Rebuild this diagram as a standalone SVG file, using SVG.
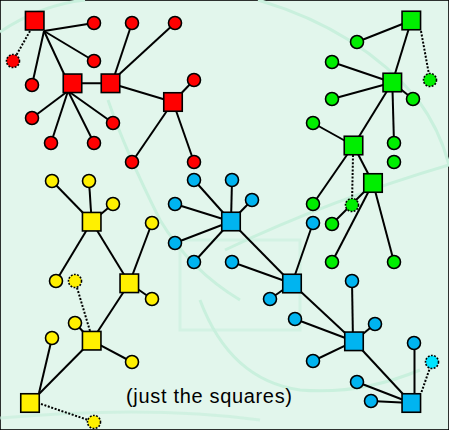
<svg xmlns="http://www.w3.org/2000/svg" width="449" height="430" viewBox="0 0 449 430">
<style>
.bgc{fill:none;stroke:#c9f0dd;stroke-width:3}
.e{stroke:#000;stroke-width:2;fill:none}
.d{stroke:#000;stroke-width:2;stroke-dasharray:2 1.6;fill:none}
circle,rect{stroke:#000;stroke-width:1.6}
.dot{stroke-dasharray:1.8 1.4}
.r{fill:#ff0000}.g{fill:#00ee00}.y{fill:#fff000}.b{fill:#00b4f0}.bc{fill:#00e4ff}
text{font-family:"Liberation Sans","DejaVu Sans",sans-serif;font-size:20px;fill:#000}
</style>
<rect x="0" y="0" width="449" height="430" fill="#e2f6ec" stroke="none"/>
<g id="background">
<path class="bgc" d="M0,32 Q40,5 85,0"/>
<path class="bgc" d="M258,0 Q360,30 418,100 Q440,130 449,165"/>
<path class="bgc" d="M108,100 Q125,150 160,220 Q190,270 240,300"/>
<path class="bgc" d="M225,250 Q330,200 449,165"/>
<path class="bgc" d="M200,300 Q230,380 300,390 Q360,395 420,370"/>
<path class="bgc" d="M180,240 L300,240 L300,330 L180,330 Z" opacity="0.6"/>
<path class="bgc" d="M0,418 Q150,405 260,420" opacity="0.7"/>
</g>
<g id="connectors">
<line class="e" x1="44" y1="31" x2="94" y2="23"/>
<line class="e" x1="44" y1="31" x2="94" y2="61"/>
<line class="e" x1="44" y1="31" x2="32" y2="85"/>
<line class="e" x1="44" y1="31" x2="65" y2="76"/>
<line class="d" x1="30" y1="31" x2="13" y2="61"/>
<line class="e" x1="72.5" y1="83.3" x2="110.5" y2="83.3"/>
<line class="e" x1="68" y1="91" x2="32" y2="118"/>
<line class="e" x1="68" y1="91" x2="51" y2="143"/>
<line class="e" x1="68" y1="91" x2="94" y2="143"/>
<line class="e" x1="68" y1="91" x2="113" y2="123"/>
<line class="e" x1="113" y1="80" x2="132" y2="23"/>
<line class="e" x1="113" y1="80" x2="175" y2="23"/>
<line class="e" x1="110.5" y1="83.3" x2="173" y2="102"/>
<line class="e" x1="173" y1="102" x2="194" y2="80"/>
<line class="e" x1="173" y1="102" x2="132" y2="162"/>
<line class="e" x1="173" y1="102" x2="194" y2="162"/>

<line class="e" x1="411.3" y1="20.5" x2="357" y2="42"/>
<line class="e" x1="411.3" y1="20.5" x2="392.3" y2="82.5"/>
<line class="d" x1="421" y1="31" x2="430" y2="80"/>
<line class="e" x1="392.3" y1="82.5" x2="332" y2="62"/>
<line class="e" x1="392.3" y1="82.5" x2="332" y2="99"/>
<line class="e" x1="392.3" y1="82.5" x2="413" y2="99"/>
<line class="e" x1="392.3" y1="82.5" x2="353.5" y2="145.5"/>
<line class="e" x1="392.3" y1="82.5" x2="394" y2="143"/>
<line class="e" x1="353.5" y1="145.5" x2="313" y2="123"/>
<line class="e" x1="353.5" y1="145.5" x2="313" y2="204"/>
<line class="e" x1="353.5" y1="145.5" x2="373" y2="183"/>
<line class="d" x1="353" y1="155" x2="352" y2="205"/>
<line class="e" x1="373" y1="183" x2="332" y2="224"/>
<line class="e" x1="373" y1="183" x2="332" y2="262"/>
<line class="e" x1="373" y1="183" x2="394" y2="262"/>

<line class="e" x1="231" y1="221.5" x2="194" y2="180"/>
<line class="e" x1="231" y1="221.5" x2="175" y2="204"/>
<line class="e" x1="231" y1="221.5" x2="175" y2="243"/>
<line class="e" x1="231" y1="221.5" x2="194" y2="262"/>
<line class="e" x1="231" y1="221.5" x2="232" y2="180"/>
<line class="e" x1="231" y1="221.5" x2="252" y2="200"/>
<line class="e" x1="231" y1="221.5" x2="292" y2="283.5"/>
<line class="e" x1="292" y1="283.5" x2="232" y2="262"/>
<line class="e" x1="292" y1="283.5" x2="313" y2="223"/>
<line class="e" x1="292" y1="283.5" x2="270" y2="299"/>
<line class="e" x1="292" y1="283.5" x2="354" y2="341.3"/>
<line class="e" x1="353" y1="341.3" x2="352" y2="281"/>
<line class="e" x1="354" y1="341.3" x2="295" y2="319"/>
<line class="e" x1="354" y1="341.3" x2="375" y2="324"/>
<line class="e" x1="354" y1="341.3" x2="313" y2="361"/>
<line class="e" x1="354" y1="341.3" x2="411.3" y2="403"/>
<line class="e" x1="411.3" y1="403" x2="357" y2="382"/>
<line class="e" x1="411.3" y1="403" x2="371" y2="401"/>
<line class="e" x1="414.5" y1="403" x2="414.5" y2="343"/>
<line class="d" x1="421.5" y1="392" x2="432" y2="362"/>

<line class="e" x1="91.7" y1="221.7" x2="52" y2="181"/>
<line class="e" x1="91.7" y1="221.7" x2="89" y2="181"/>
<line class="e" x1="91.7" y1="221.7" x2="113" y2="204"/>
<line class="e" x1="91.7" y1="221.7" x2="56" y2="281"/>
<line class="e" x1="91.7" y1="221.7" x2="129.3" y2="283.3"/>
<line class="e" x1="129.3" y1="283.3" x2="152" y2="223"/>
<line class="e" x1="129.3" y1="283.3" x2="152" y2="299"/>
<line class="e" x1="129.3" y1="283.3" x2="91.7" y2="340.7"/>
<line class="e" x1="91.7" y1="340.7" x2="75" y2="323"/>
<line class="e" x1="91.7" y1="340.7" x2="132" y2="362"/>
<line class="e" x1="91.7" y1="340.7" x2="30" y2="403"/>
<line class="d" x1="90" y1="331" x2="75" y2="281"/>
<line class="e" x1="39" y1="393" x2="52" y2="338"/>
<line class="d" x1="41" y1="404" x2="94" y2="422"/>
</g>

<g id="red-s1"><rect class="r" x="25.45" y="11.45" width="18.5" height="18.5"/></g>
<g id="red-s2"><rect class="r" x="63.25" y="74.05" width="18.5" height="18.5"/></g>
<g id="red-s3"><rect class="r" x="101.25" y="74.05" width="18.5" height="18.5"/></g>
<g id="red-s4"><rect class="r" x="163.75" y="92.75" width="18.5" height="18.5"/></g>
<g id="red-c1"><circle class="r" cx="94" cy="23" r="6.5"/></g>
<g id="red-c2"><circle class="r" cx="132" cy="23" r="6.5"/></g>
<g id="red-c3"><circle class="r" cx="175" cy="23" r="6.5"/></g>
<g id="red-c4"><circle class="r" cx="94" cy="61" r="6.5"/></g>
<g id="red-cd"><circle class="r dot" cx="13" cy="61" r="6.5"/></g>
<g id="red-c5"><circle class="r" cx="32" cy="85" r="6.5"/></g>
<g id="red-c6"><circle class="r" cx="194" cy="80" r="6.5"/></g>
<g id="red-c7"><circle class="r" cx="32" cy="118" r="6.5"/></g>
<g id="red-c8"><circle class="r" cx="113" cy="123" r="6.5"/></g>
<g id="red-c9"><circle class="r" cx="51" cy="143" r="6.5"/></g>
<g id="red-c10"><circle class="r" cx="94" cy="143" r="6.5"/></g>
<g id="red-c11"><circle class="r" cx="132" cy="162" r="6.5"/></g>
<g id="red-c12"><circle class="r" cx="194" cy="162" r="6.5"/></g>

<g id="green-s1"><rect class="g" x="402.05" y="11.25" width="18.5" height="18.5"/></g>
<g id="green-s2"><rect class="g" x="383.05" y="73.25" width="18.5" height="18.5"/></g>
<g id="green-s3"><rect class="g" x="344.25" y="136.25" width="18.5" height="18.5"/></g>
<g id="green-s4"><rect class="g" x="363.75" y="173.75" width="18.5" height="18.5"/></g>
<g id="green-c1"><circle class="g" cx="357" cy="42" r="6.5"/></g>
<g id="green-c2"><circle class="g" cx="332" cy="62" r="6.5"/></g>
<g id="green-c3"><circle class="g" cx="332" cy="99" r="6.5"/></g>
<g id="green-c4"><circle class="g" cx="413" cy="99" r="6.5"/></g>
<g id="green-c5"><circle class="g" cx="313" cy="123" r="6.5"/></g>
<g id="green-c6"><circle class="g" cx="394" cy="143" r="6.5"/></g>
<g id="green-c7"><circle class="g" cx="394" cy="162" r="6.5"/></g>
<g id="green-c8"><circle class="g" cx="313" cy="204" r="6.5"/></g>
<g id="green-c9"><circle class="g" cx="332" cy="224" r="6.5"/></g>
<g id="green-c10"><circle class="g" cx="332" cy="262" r="6.5"/></g>
<g id="green-c11"><circle class="g" cx="394" cy="262" r="6.5"/></g>
<g id="green-cd1"><circle class="g dot" cx="430" cy="80" r="6.5"/></g>
<g id="green-cd2"><circle class="g dot" cx="352" cy="205" r="6.5"/></g>

<g id="blue-s1"><rect class="b" x="221.75" y="212.25" width="18.5" height="18.5"/></g>
<g id="blue-s2"><rect class="b" x="282.75" y="274.25" width="18.5" height="18.5"/></g>
<g id="blue-s3"><rect class="b" x="344.75" y="332.05" width="18.5" height="18.5"/></g>
<g id="blue-s4"><rect class="b" x="402.05" y="393.75" width="18.5" height="18.5"/></g>
<g id="blue-c1"><circle class="b" cx="194" cy="180" r="6.5"/></g>
<g id="blue-c2"><circle class="b" cx="175" cy="204" r="6.5"/></g>
<g id="blue-c3"><circle class="b" cx="175" cy="243" r="6.5"/></g>
<g id="blue-c4"><circle class="b" cx="194" cy="262" r="6.5"/></g>
<g id="blue-c5"><circle class="b" cx="232" cy="180" r="6.5"/></g>
<g id="blue-c6"><circle class="b" cx="252" cy="200" r="6.5"/></g>
<g id="blue-c7"><circle class="b" cx="232" cy="262" r="6.5"/></g>
<g id="blue-c8"><circle class="b" cx="313" cy="223" r="6.5"/></g>
<g id="blue-c9"><circle class="b" cx="270" cy="299" r="6.5"/></g>
<g id="blue-c10"><circle class="b" cx="352" cy="281" r="6.5"/></g>
<g id="blue-c11"><circle class="b" cx="295" cy="319" r="6.5"/></g>
<g id="blue-c12"><circle class="b" cx="375" cy="324" r="6.5"/></g>
<g id="blue-c13"><circle class="b" cx="313" cy="361" r="6.5"/></g>
<g id="blue-c14"><circle class="b" cx="414" cy="343" r="6.5"/></g>
<g id="blue-c15"><circle class="b" cx="357" cy="382" r="6.5"/></g>
<g id="blue-c16"><circle class="b" cx="371" cy="401" r="6.5"/></g>
<g id="blue-cd"><circle class="bc dot" cx="432" cy="362" r="6.5"/></g>

<g id="yellow-s1"><rect class="y" x="82.45" y="212.45" width="18.5" height="18.5"/></g>
<g id="yellow-s2"><rect class="y" x="120.05" y="274.05" width="18.5" height="18.5"/></g>
<g id="yellow-s3"><rect class="y" x="82.45" y="331.45" width="18.5" height="18.5"/></g>
<g id="yellow-s4"><rect class="y" x="20.75" y="393.75" width="18.5" height="18.5"/></g>
<g id="yellow-c1"><circle class="y" cx="52" cy="181" r="6.5"/></g>
<g id="yellow-c2"><circle class="y" cx="89" cy="181" r="6.5"/></g>
<g id="yellow-c3"><circle class="y" cx="113" cy="204" r="6.5"/></g>
<g id="yellow-c4"><circle class="y" cx="152" cy="223" r="6.5"/></g>
<g id="yellow-c5"><circle class="y" cx="56" cy="281" r="6.5"/></g>
<g id="yellow-c6"><circle class="y" cx="152" cy="299" r="6.5"/></g>
<g id="yellow-c7"><circle class="y" cx="75" cy="323" r="6.5"/></g>
<g id="yellow-c8"><circle class="y" cx="52" cy="338" r="6.5"/></g>
<g id="yellow-c9"><circle class="y" cx="132" cy="362" r="6.5"/></g>
<g id="yellow-cd1"><circle class="y dot" cx="75" cy="281" r="6.5"/></g>
<g id="yellow-cd2"><circle class="y dot" cx="94" cy="422" r="6.5"/></g>

<g id="caption"><text x="126" y="403" textLength="166" lengthAdjust="spacing">(just the squares)</text></g>
</svg>
